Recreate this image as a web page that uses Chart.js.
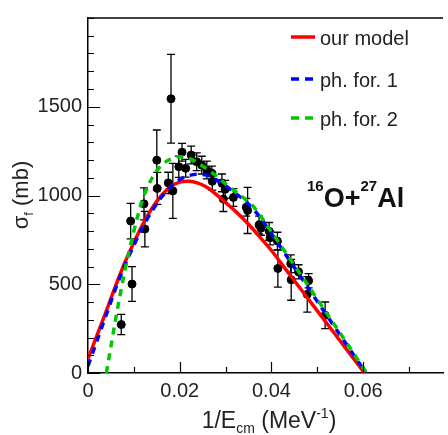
<!DOCTYPE html>
<html>
<head>
<meta charset="utf-8">
<script src="https://cdn.jsdelivr.net/npm/chart.js@4"></script>
<style>
  body { margin: 0; background: #fff; }
  #wrap { width: 448px; height: 435px; position: relative; }
</style>
</head>
<body>
<div id="wrap"><canvas id="myChart"></canvas></div>
<script>
// data points (1/Ecm, sigma_f, error)
const ptX = [0.00725, 0.0093, 0.0096, 0.0122, 0.0124, 0.0150, 0.0151, 0.0175, 0.0181, 0.0185, 0.0198, 0.0205, 0.0213, 0.0225, 0.0237, 0.0248, 0.0259, 0.0270, 0.0271, 0.0292, 0.0295, 0.0299, 0.0317, 0.0345, 0.0348, 0.0373, 0.0377, 0.0395, 0.0397, 0.0413, 0.0414, 0.0442, 0.0443, 0.0459, 0.0478, 0.0481, 0.0517];
const ptY = [273, 856, 501, 953, 811, 1199, 1040, 1071, 1545, 1026, 1162, 1244, 1153, 1228, 1190, 1171, 1144, 1126, 1080, 1071, 980, 1035, 989, 934, 916, 834, 816, 798, 762, 743, 589, 616, 525, 570, 443, 520, 325];
const ptErr = [57, 100, 98, 90, 100, 170, 90, 60, 250, 155, 60, 50, 50, 50, 50, 50, 50, 40, 50, 50, 70, 50, 50, 50, 130, 50, 40, 50, 40, 50, 105, 50, 115, 40, 100, 40, 75];

// our model
const redX = [0, 0.002, 0.004, 0.006, 0.008, 0.010, 0.012, 0.014, 0.016, 0.018, 0.020, 0.022, 0.024, 0.026, 0.028, 0.030, 0.032, 0.034, 0.036, 0.038, 0.040, 0.042, 0.044, 0.046, 0.048, 0.050, 0.052, 0.054, 0.056, 0.058, 0.060, 0.0603];
const redY = [80, 215, 350, 490, 620, 735, 840, 930, 1000, 1050, 1075, 1080, 1070, 1045, 1005, 960, 915, 865, 810, 750, 690, 622, 554, 486, 418, 350, 282, 214, 146, 78, 10, 0];

// ph. for. 1
const blueX = [0, 0.002, 0.004, 0.006, 0.008, 0.010, 0.012, 0.014, 0.016, 0.018, 0.020, 0.022, 0.024, 0.026, 0.028, 0.030, 0.032, 0.034, 0.036, 0.038, 0.040, 0.042, 0.044, 0.046, 0.048, 0.050, 0.052, 0.054, 0.056, 0.058, 0.060, 0.0606];
const blueY = [40, 185, 330, 475, 605, 720, 825, 915, 990, 1048, 1090, 1112, 1120, 1113, 1088, 1055, 1015, 975, 925, 860, 784, 708, 632, 556, 480, 403, 327, 251, 175, 99, 23, 0];

// ph. for. 2
const greenX = [0.004, 0.005, 0.006, 0.007, 0.008, 0.009, 0.010, 0.011, 0.012, 0.014, 0.016, 0.018, 0.020, 0.022, 0.024, 0.026, 0.028, 0.030, 0.032, 0.034, 0.036, 0.038, 0.040, 0.042, 0.044, 0.046, 0.048, 0.050, 0.052, 0.054, 0.056, 0.058, 0.060, 0.0608];
const greenY = [0, 150, 300, 440, 570, 690, 800, 900, 985, 1100, 1170, 1205, 1218, 1210, 1182, 1148, 1110, 1065, 1025, 985, 940, 870, 795, 720, 645, 568, 492, 415, 338, 262, 185, 108, 30, 0];

const xTicks = [0, 0.02, 0.04, 0.06];
const yTicks = [0, 500, 1000, 1500];
const xMinor = 0.01;
const yMinor = 100;

const legendItems = [
    { label: 'our model', color: 'rgb(255,0,0)', dash: [] },
    { label: 'ph. for. 1', color: 'rgb(0,0,255)', dash: [8, 6] },
    { label: 'ph. for. 2', color: 'rgb(0,200,0)', dash: [8, 6] },
];

const FONT = '"Liberation Sans", Arial, sans-serif';

function toPoints(xs, ys) {
    return xs.map((x, i) => ({ x: x, y: ys[i] }));
}

const extras = {
    id: 'extras',
    beforeDatasetsDraw(chart) {
        const ctx = chart.ctx;
        const xs = chart.scales.x, ys = chart.scales.y;
        ctx.save();
        ctx.strokeStyle = '#000';
        ctx.lineWidth = 1.3;
        for (let i = 0; i < ptX.length; i++) {
            const px = xs.getPixelForValue(ptX[i]);
            const top = ys.getPixelForValue(ptY[i] + ptErr[i]);
            const bot = ys.getPixelForValue(ptY[i] - ptErr[i]);
            ctx.beginPath();
            ctx.moveTo(px, top); ctx.lineTo(px, bot);
            ctx.moveTo(px - 4, top); ctx.lineTo(px + 4, top);
            ctx.moveTo(px - 4, bot); ctx.lineTo(px + 4, bot);
            ctx.stroke();
        }
        ctx.restore();
    },
    afterDraw(chart) {
        const ctx = chart.ctx;
        const a = chart.chartArea;
        const xs = chart.scales.x, ys = chart.scales.y;
        ctx.save();
        ctx.strokeStyle = '#000';
        ctx.lineWidth = 1.5;
        // top frame line
        ctx.beginPath();
        ctx.moveTo(a.left, a.top); ctx.lineTo(a.right, a.top);
        ctx.stroke();

        // inward ticks
        ctx.lineWidth = 1.2;
        ctx.beginPath();
        for (let v = 0; v <= ys.max + 1e-9; v += yMinor) {
            const py = Math.round(ys.getPixelForValue(v)) + 0.5;
            const len = yTicks.includes(Math.round(v)) ? 12 : 6;
            ctx.moveTo(a.left, py); ctx.lineTo(a.left + len, py);
        }
        for (let k = 0; k * xMinor <= xs.max; k++) {
            const v = k * xMinor;
            const px = Math.round(xs.getPixelForValue(v)) + 0.5;
            const len = (k % 2 === 0) ? 11 : 6;
            ctx.moveTo(px, a.bottom); ctx.lineTo(px, a.bottom - len);
        }
        ctx.stroke();

        // legend
        ctx.fillStyle = '#222';
        ctx.font = '20px ' + FONT;
        ctx.textBaseline = 'alphabetic';
        const legY = [37, 79, 118];
        legendItems.forEach((it, i) => {
            ctx.strokeStyle = it.color;
            ctx.lineWidth = 3.5;
            ctx.setLineDash(it.dash);
            ctx.beginPath();
            ctx.moveTo(291, legY[i]); ctx.lineTo(315, legY[i]);
            ctx.stroke();
            ctx.setLineDash([]);
            ctx.fillText(it.label, 320, legY[i] + 8);
        });

        // reaction label
        let x = 307;
        ctx.fillStyle = '#111';
        const parts = [['16', 'bold 15px ', 191], ['O+', 'bold 27px ', 207], ['27', 'bold 15px ', 191], ['Al', 'bold 27px ', 207]];
        parts.forEach(p => {
            ctx.font = p[1] + FONT;
            ctx.fillText(p[0], x, p[2]);
            x += ctx.measureText(p[0]).width;
        });

        // x title
        const xt = [['1/E', '23px ', 0], ['cm', '14px ', 5], [' (MeV', '23px ', 0], ['-1', '14px ', -10], [')', '23px ', 0]];
        drawRich(ctx, xt, 269, 428, '#222');

        // y title
        ctx.save();
        ctx.translate(28, 195);
        ctx.rotate(-Math.PI / 2);
        const yt = [['\u03c3', '22px ', 0], ['f', '13px ', 5], [' (mb)', '22px ', 0]];
        drawRich(ctx, yt, 0, 0, '#222');
        ctx.restore();

        ctx.restore();
    }
};

function drawRich(ctx, parts, cx, base, color) {
    let w = 0;
    parts.forEach(p => { ctx.font = p[1] + FONT; w += ctx.measureText(p[0]).width; });
    let x = cx - w / 2;
    ctx.fillStyle = color;
    parts.forEach(p => {
        ctx.font = p[1] + FONT;
        ctx.fillText(p[0], x, base + p[2]);
        x += ctx.measureText(p[0]).width;
    });
}

const data = {
    datasets: [
        {
            type: 'line',
            label: 'ph. for. 2',
            data: toPoints(greenX, greenY),
            borderColor: 'rgb(0,200,0)',
            borderWidth: 3.5,
            borderDash: [7, 6],
            pointRadius: 0,
            cubicInterpolationMode: 'monotone',
            order: 1,
        },
        {
            type: 'line',
            label: 'ph. for. 1',
            data: toPoints(blueX, blueY),
            borderColor: 'rgb(0,0,255)',
            borderWidth: 3.5,
            borderDash: [7, 6],
            pointRadius: 0,
            cubicInterpolationMode: 'monotone',
            order: 2,
        },
        {
            type: 'line',
            label: 'our model',
            data: toPoints(redX, redY),
            borderColor: 'rgb(255,0,0)',
            borderWidth: 3.5,
            pointRadius: 0,
            cubicInterpolationMode: 'monotone',
            order: 3,
        },
        {
            type: 'scatter',
            label: 'data',
            data: toPoints(ptX, ptY),
            backgroundColor: '#000',
            borderColor: '#000',
            pointRadius: 4,
            order: 4,
        },
    ]
};

const config = {
    type: 'scatter',
    data,
    options: {
        responsive: true,
        maintainAspectRatio: false,
        animation: false,
        layout: { padding: { top: 7, right: 0, left: 0, bottom: 0 } },
        plugins: { legend: { display: false }, tooltip: { enabled: false } },
        scales: {
            x: {
                type: 'linear',
                min: 0,
                max: 0.0774,
                grid: { display: false, drawTicks: false },
                border: { display: true, color: '#000', width: 1.5 },
                afterBuildTicks: s => { s.ticks = xTicks.map(v => ({ value: v })); },
                afterFit: s => { s.height = 62; },
                ticks: {
                    padding: 6,
                    color: '#222',
                    font: { size: 20, family: FONT },
                    maxRotation: 0,
                    callback: v => v === 0 ? '0' : v.toFixed(2),
                },
            },
            y: {
                type: 'linear',
                min: 0,
                max: 2000,
                grid: { display: false, drawTicks: false },
                border: { display: true, color: '#000', width: 1.5 },
                afterBuildTicks: s => { s.ticks = yTicks.map(v => ({ value: v })); },
                afterFit: s => { s.width = 88; },
                ticks: {
                    padding: 6,
                    color: '#222',
                    font: { size: 20, family: FONT },
                    callback: v => String(v),
                },
            },
        },
    },
    plugins: [extras],
};

window.addEventListener('load', function () {
    var myChart = new Chart(document.getElementById('myChart'), config);
});
</script>
</body>
</html>
